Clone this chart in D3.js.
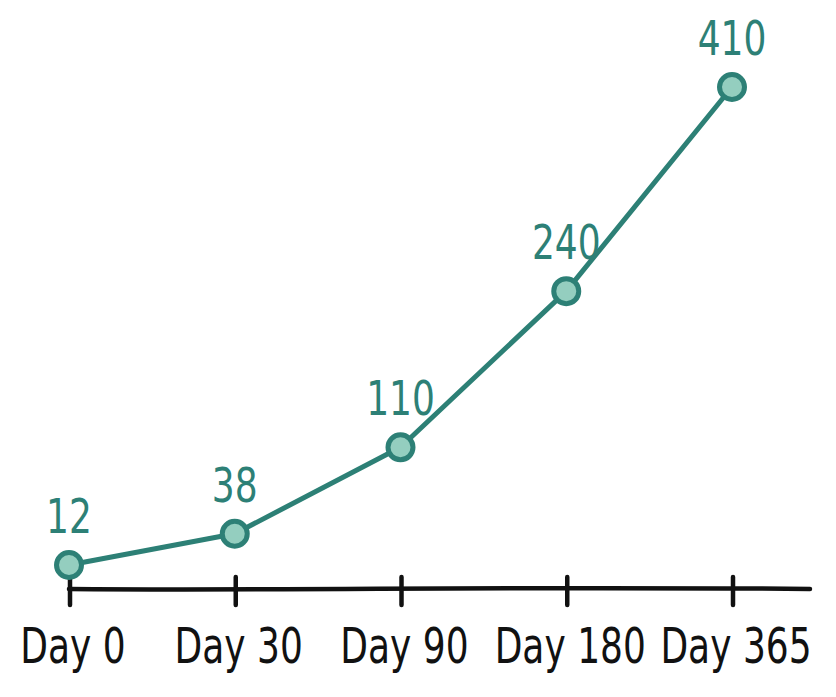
<!DOCTYPE html>
<html><head><meta charset="utf-8">
<script src="https://cdn.jsdelivr.net/npm/d3@7"></script>
<style>
html,body{margin:0;padding:0;background:#fff;}
text{font-family:"DejaVu Sans","Open Sans",sans-serif;}
</style></head>
<body>
<svg id="chart" width="836" height="697"></svg>
<script>
const categories = ["Day 0", "Day 30", "Day 90", "Day 180", "Day 365"];
const values = [12, 38, 110, 240, 410];
const valueLabels = ["12", "38", "110", "240", "410"];

const data = categories.map((c, i) => ({ cat: c, value: values[i], label: valueLabels[i] }));

const svg = d3.select("#chart");
const teal = "#2d8076", tealFill = "#94cebf";

const x = d3.scalePoint().domain(categories).range([69, 732]);
const y = d3.scaleLinear().domain([0, 410]).range([579.4, 87]);

// axis baseline
const axisY = 589;
const g = svg.append("g");
g.append("path")
  .attr("d", `M${x.range()[0]},${axisY} C300,${axisY + 2} 500,${axisY - 3} 810,${axisY}`)
  .attr("fill", "none").attr("stroke", "#111").attr("stroke-width", 4.5).attr("stroke-linecap", "round");

g.selectAll("line.tick").data(categories).join("line")
  .attr("class", "tick")
  .attr("x1", d => x(d) + 1).attr("x2", d => x(d) + 1)
  .attr("y1", axisY - 12).attr("y2", axisY + 16)
  .attr("stroke", "#111").attr("stroke-width", 4.5).attr("stroke-linecap", "round");

g.selectAll("text.xl").data(categories).join("text")
  .attr("class", "xl")
  .attr("transform", d => `translate(${x(d) + 4},663) scale(0.72,1)`)
  .attr("text-anchor", "middle")
  .attr("font-size", 50)
  .attr("fill", "#111")
  .text(d => d);

// line
const line = d3.line().x(d => x(d.cat)).y(d => y(d.value));
svg.append("path").datum(data)
  .attr("d", line)
  .attr("fill", "none").attr("stroke", teal).attr("stroke-width", 5)
  .attr("stroke-linejoin", "round").attr("stroke-linecap", "round");
svg.append("path").datum(data)
  .attr("d", line)
  .attr("transform", "translate(1.2,-1)")
  .attr("fill", "none").attr("stroke", teal).attr("stroke-width", 2).attr("opacity", 0.7);

// points
svg.selectAll("circle.pt").data(data).join("circle")
  .attr("class", "pt")
  .attr("cx", d => x(d.cat)).attr("cy", d => y(d.value))
  .attr("r", 12.5)
  .attr("fill", tealFill).attr("stroke", teal).attr("stroke-width", 5);

// value labels
svg.selectAll("text.vl").data(data).join("text")
  .attr("class", "vl")
  .attr("transform", d => `translate(${x(d.cat)},${y(d.value) - 32}) scale(0.75,1)`)
  .attr("text-anchor", "middle")
  .attr("font-size", 48)
  .attr("fill", teal)
  .text(d => d.label);
</script>
</body></html>
